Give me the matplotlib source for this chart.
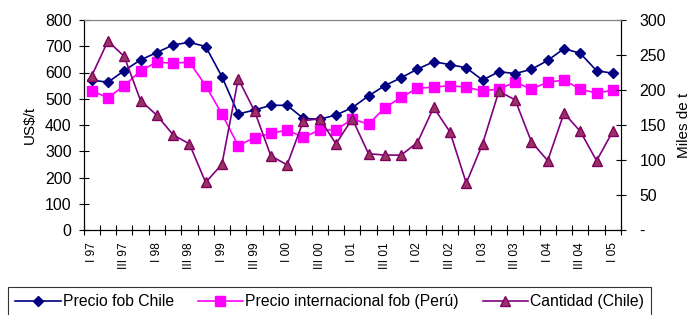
import matplotlib
matplotlib.use("Agg")
import matplotlib.pyplot as plt
import numpy as np

plt.rcParams['font.family'] = ['Liberation Sans', 'DejaVu Sans']

years = ['97', '98', '99', '00', '01', '02', '03', '04', '05']
quarters = ['I', 'II', 'III', 'IV']
categories = [f"{q} {y}" for y in years for q in quarters][:33]

precio_chile = [571, 563, 607, 648, 676, 705, 715, 699, 584, 442, 457, 475, 475, 425, 422, 438,
                466, 511, 550, 580, 613, 641, 630, 618, 571, 603, 596, 612, 646, 691, 673, 607, 597]
precio_peru = [530, 504, 550, 606, 640, 635, 640, 550, 442, 321, 352, 368, 381, 353, 381, 381,
               423, 403, 466, 505, 540, 544, 550, 544, 530, 537, 563, 537, 563, 571, 537, 521, 533]
cantidad = [220, 270, 248, 185, 164, 136, 123, 68, 94, 216, 170, 106, 93, 156, 159, 123,
            159, 109, 107, 107, 125, 175, 140, 67, 123, 198, 186, 126, 99, 167, 141, 99, 141]

left_ticks = [0, 100, 200, 300, 400, 500, 600, 700, 800]
right_ticks = [0, 50, 100, 150, 200, 250, 300]
right_labels = ['-', '50', '100', '150', '200', '250', '300']

fig = plt.figure(figsize=(6.91, 3.15), dpi=100)
ax = fig.add_axes([83.5/691, 1-230/315, (621-83.5)/691, 210/315])
ax2 = ax.twinx()

x = np.arange(len(categories))
l1, = ax.plot(x, precio_chile, color='#000080', marker='D', markersize=5.5, lw=1.2,
              markeredgecolor='#000080', markerfacecolor='#000080', zorder=3)
l2, = ax.plot(x, precio_peru, color='#FF00FF', marker='s', markersize=7, lw=1.2,
              markeredgecolor='#FF00FF', markerfacecolor='#FF00FF', zorder=2)
l3, = ax2.plot(x, cantidad, color='#800080', marker='^', markersize=7.5, lw=1.2,
               markeredgecolor='#800060', markerfacecolor='#993366', zorder=3)

ax.set_xlim(-0.5, len(categories) - 0.5)
ax.set_ylim(0, 800)
ax2.set_ylim(0, 300)
ax.set_yticks(left_ticks)
ax.set_yticklabels([str(v) for v in left_ticks], fontsize=11.4)
ax2.set_yticks(right_ticks)
ax2.set_yticklabels(right_labels, fontsize=11.4)

ax.set_xticks(np.arange(-0.5, len(categories)), minor=True)
ax.set_xticks(x[::2])
ax.set_xticklabels([categories[i] for i in x[::2]], rotation=90, fontsize=8.6)
ax.tick_params(axis='x', which='major', length=0, pad=9)
ax.tick_params(axis='x', which='minor', direction='inout', length=7, width=0.8)
ax.tick_params(axis='y', direction='inout', length=7, width=0.8, pad=5)
ax2.tick_params(axis='y', direction='inout', length=7, width=0.8, pad=10)

ax.set_ylabel('US$/t', fontsize=11, labelpad=6)
ax2.set_ylabel('Miles de t', fontsize=11, labelpad=8)

for a in (ax, ax2):
    a.spines['top'].set_color('#808080')
    a.spines['top'].set_linewidth(0.8)
    a.spines['left'].set_linewidth(0.8)
    a.spines['right'].set_linewidth(0.8)
    a.spines['bottom'].set_linewidth(0.8)

leg = fig.legend([l1, l2, l3], ['Precio fob Chile', 'Precio internacional fob (Perú)', 'Cantidad (Chile)'],
                 loc='upper left', bbox_to_anchor=(8/691, 1-287/315), ncol=3, fontsize=11.3,
                 frameon=True, fancybox=False, edgecolor='black', handlelength=2.9,
                 columnspacing=1.5, borderpad=0.45, handletextpad=0.15, borderaxespad=0)
leg.get_frame().set_linewidth(0.8)

fig.savefig('out.png', dpi=100)
